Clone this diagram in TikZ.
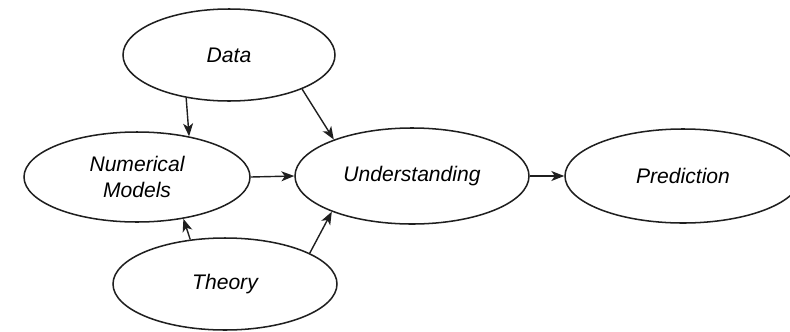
\documentclass[tikz,border=0pt]{standalone}
\usepackage{fontspec}
\setmainfont{Liberation Sans}
\usetikzlibrary{shapes.geometric,arrows.meta}
\begin{document}
\begin{tikzpicture}[x=0.03cm,y=-0.03cm,
  oval/.style={ellipse,draw=black!88,line width=1.3pt,inner sep=0pt,
    align=center,font=\fontsize{18}{22}\selectfont\itshape},
  link/.style={draw=black!88,line width=1.2pt,
    -{Stealth[length=11pt,width=8.5pt,inset=3pt]}}]
\clip (0,0) rectangle (790,331);
\node[oval,minimum width=6.36cm,minimum height=2.76cm] (data) at (229,55) {Data};
\node[oval,minimum width=6.78cm,minimum height=2.7cm] (num) at (137,177) {Numerical\\Models};
\node[oval,minimum width=7.02cm,minimum height=2.88cm] (und) at (412,176) {Understanding};
\node[oval,minimum width=7.08cm,minimum height=2.82cm] (pred) at (683,176) {Prediction};
\node[oval,minimum width=6.72cm,minimum height=2.76cm] (theory) at (225,284) {Theory};
\draw[link] (data.225.1) -- (num.38.9);
\draw[link] (data.335.8) -- (und.155.6);
\draw[link] (num.east) -- (und.west);
\draw[link] (theory.128.7) -- (num.318.2);
\draw[link] (theory.20.2) -- (und.204);
\draw[link] (und.east) -- (pred.west);
\end{tikzpicture}
\end{document}
